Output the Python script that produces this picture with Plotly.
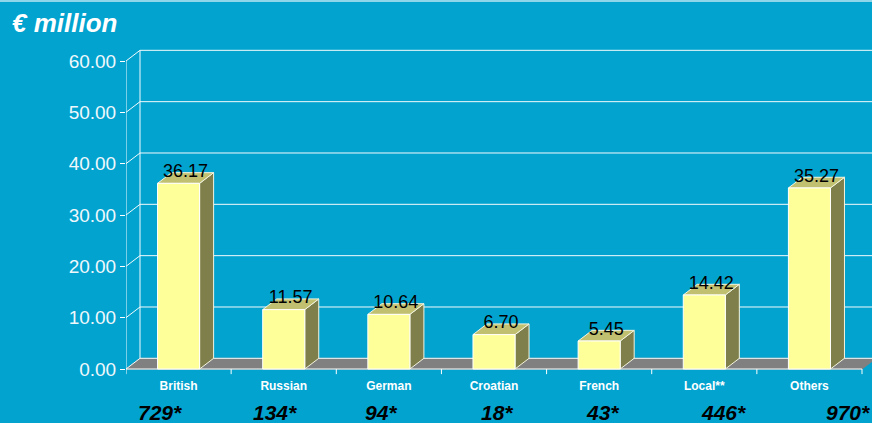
import plotly.graph_objects as go

# ---- data ----
categories = ["British", "Russian", "German", "Croatian", "French", "Local**", "Others"]
values = [36.17, 11.57, 10.64, 6.70, 5.45, 14.42, 35.27]
counts = ["729*", "134*", "94*", "18*", "43*", "446*", "970*"]
ytick_vals = [0, 10, 20, 30, 40, 50, 60]
ytick_text = ["0.00", "10.00", "20.00", "30.00", "40.00", "50.00", "60.00"]
title_text = "€ million"

# ---- styling / geometry ----
BG = "#02A3CF"
FRONT = "#FFFF99"
SIDE = "#7F7F4C"
TOP = "#C0C070"
FLOOR = "#808080"
GRID = "#F4FBFD"
FONT = "Liberation Sans, Arial, sans-serif"
DX = 0.1332   # depth offset in category units
DY = 2.08     # depth offset in value units
HALF = 0.2    # half bar width
n = len(categories)
x0, x1 = -0.5, n - 0.5

fig = go.Figure()

def poly(xs, ys, fill, line_color=None, width=1):
    fig.add_trace(go.Scatter(
        x=xs + [xs[0]], y=ys + [ys[0]], mode="lines", fill="toself",
        fillcolor=fill, line=dict(color=line_color or fill, width=width),
        hoverinfo="skip", showlegend=False))

def seg(xs, ys, color=GRID, width=1):
    fig.add_trace(go.Scatter(x=xs, y=ys, mode="lines",
                             line=dict(color=color, width=width),
                             hoverinfo="skip", showlegend=False))

# floor
poly([x0, x1, x1 + DX, x0 + DX], [0, 0, DY, DY], FLOOR, FLOOR)
seg([x0, x1], [0, 0], "#FFFFFF", 1)

# walls: gridlines on back wall and left side wall
for v in ytick_vals:
    seg([x0, x0 + DX, x1 + DX], [v, v + DY, v + DY])
seg([x0, x0], [0, ytick_vals[-1]])
seg([x0 + DX, x0 + DX], [DY, ytick_vals[-1] + DY])

# category boundary ticks
for k in range(n + 1):
    seg([x0 + k, x0 + k], [0, -1.0], "#FFFFFF", 1)

# bars
for i, v in enumerate(values):
    l, r = i - HALF, i + HALF
    poly([r, r + DX, r + DX, r], [0, DY, v + DY, v], SIDE, "#F4F4E0", 1)
    poly([l, r, r + DX, l + DX], [v, v, v + DY, v + DY], TOP, "#F4F4E0", 1)
    poly([l, r, r, l], [0, 0, v, v], FRONT, "#FFFFFF", 1)

# value labels
fig.add_trace(go.Scatter(
    x=[i + DX / 2 for i in range(n)], y=[v + DY for v in values],
    mode="text", text=[f"{v:.2f}" for v in values],
    textposition="middle center",
    textfont=dict(family=FONT, size=18, color="#000000"),
    hoverinfo="skip", showlegend=False, cliponaxis=False))

# counts under categories
count_shift = [-19, -9, -8, 3, 3, 19, 39]
for i, c in enumerate(counts):
    fig.add_annotation(x=i, xref="x", y=-0.1075, yref="paper",
                       text=c, showarrow=False, xshift=count_shift[i],
                       xanchor="center", yanchor="middle",
                       font=dict(family=FONT, size=21, color="#000000",
                                 weight="bold", style="italic"))

fig.add_annotation(x=-0.1555, xref="paper", y=1.0663, yref="paper",
                   text=title_text, showarrow=False, xanchor="left",
                   yanchor="middle",
                   font=dict(family=FONT, size=26, color="#FFFFFF",
                             weight="bold", style="italic"))

# top light border
fig.add_shape(type="line", xref="paper", yref="paper",
              x0=-0.2, x1=1.0, y0=1.1325, y1=1.1325,
              line=dict(color="#8FD6EA", width=2))

fig.update_layout(
    width=872, height=423,
    paper_bgcolor=BG, plot_bgcolor=BG,
    margin=dict(l=126, r=0, t=45, b=46, autoexpand=False),
    xaxis=dict(range=[x0, 6.595], tickvals=list(range(n)),
               ticktext=categories, showgrid=False, zeroline=False,
               showline=False, ticks="",
               tickfont=dict(family=FONT, size=12, color="#FFFFFF",
                             weight="bold")),
    yaxis=dict(range=[-1.558, 63.117], tickvals=ytick_vals,
               ticktext=ytick_text, showgrid=False, zeroline=False,
               showline=False, ticks="outside", ticklen=5,
               tickcolor="#FFFFFF", tickwidth=1,
               tickfont=dict(family=FONT, size=19, color="#F0F8FC")),
    showlegend=False,
)

fig.write_html("out.html",
               config={"displayModeBar": False, "staticPlot": True},
               post_script="document.body.style.margin='0';"
                           "document.body.style.overflow='hidden';")
